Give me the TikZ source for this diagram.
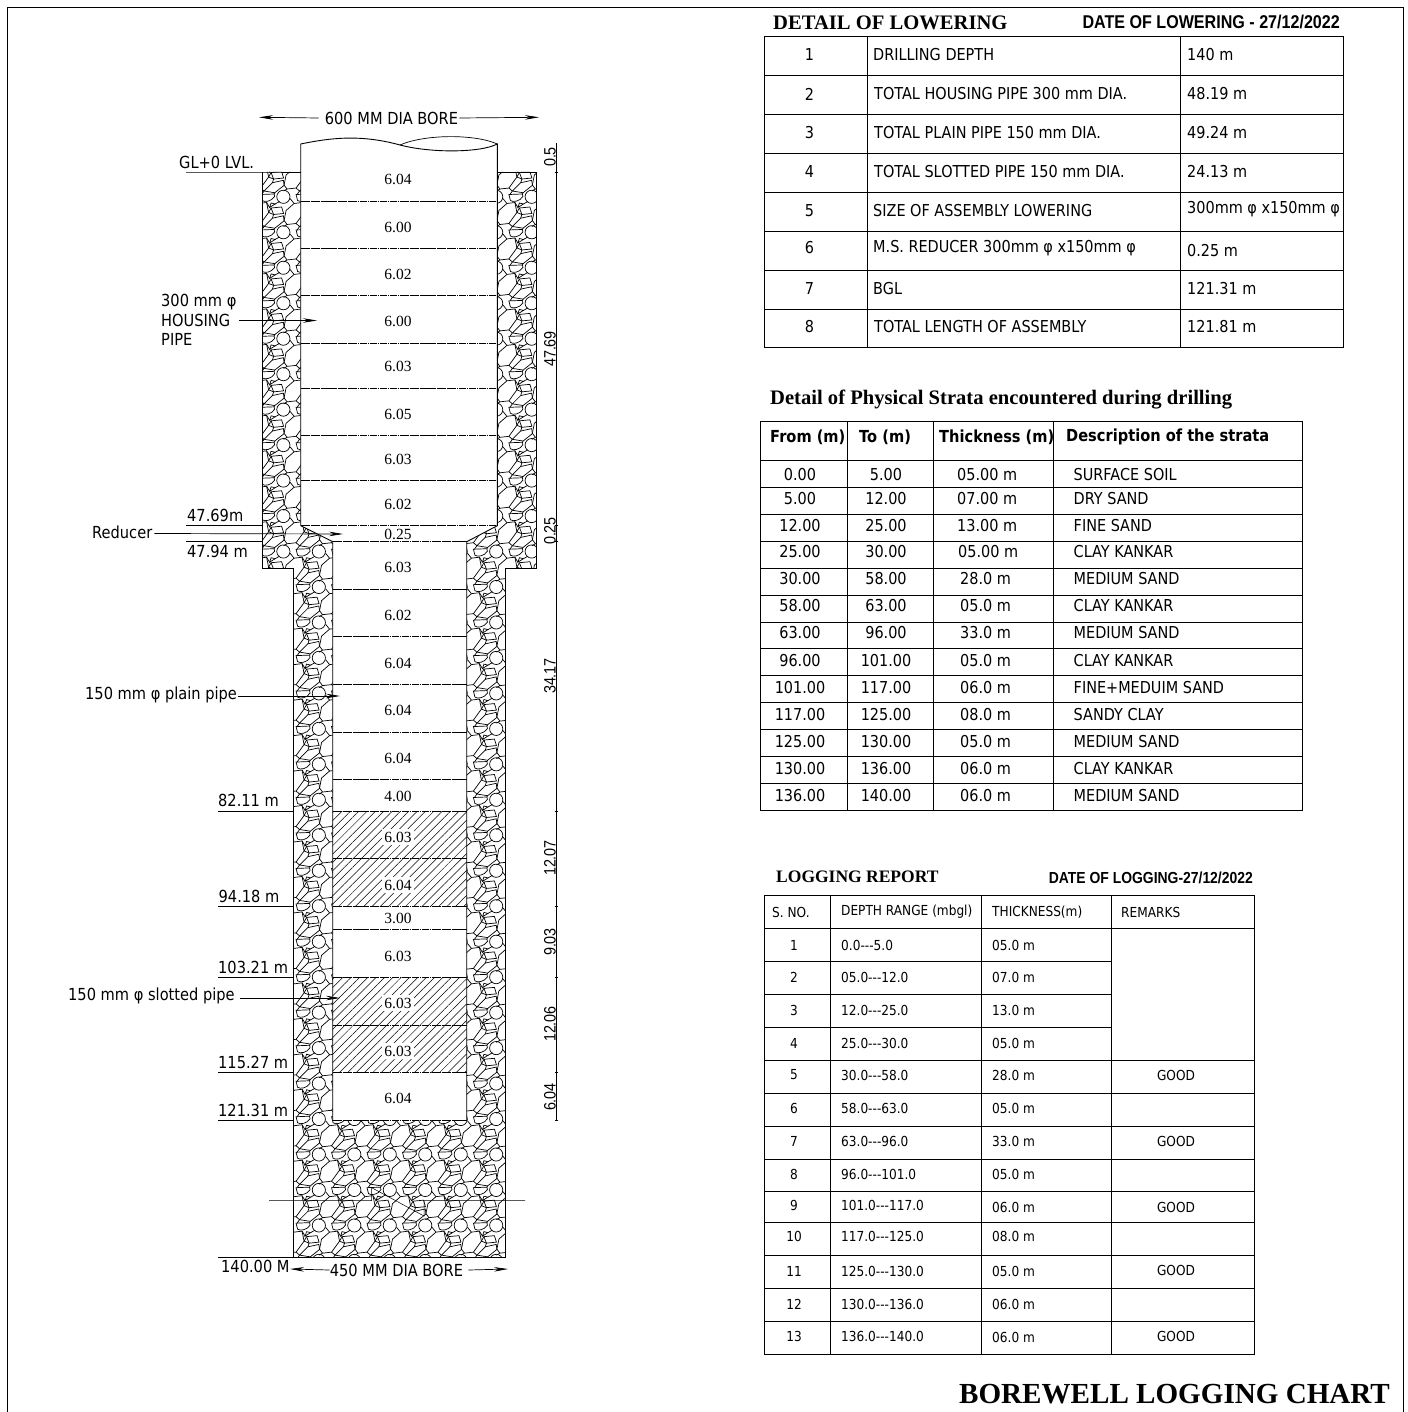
\documentclass[tikz,border=0pt]{standalone}
\usepackage{fontspec}
\setmainfont{DejaVu Sans}[FakeStretch=0.88]
\newfontfamily\titlefont{Liberation Serif}
\newfontfamily\narrowfont{Liberation Sans}[FakeStretch=0.87]
\usepackage{tikz}
\usetikzlibrary{calc,positioning,arrows.meta,patterns.meta}
\tikzset{
	lbl/.style={inner sep=0pt, font=\fontsize{16.6}{17}\selectfont},
	tbl/.style={inner sep=0pt, font=\fontsize{16.4}{17}\selectfont},
	tblsmall/.style={inner sep=0pt, font=\fontsize{13.8}{14}\selectfont},
	seglbl/.style={inner sep=1pt, font=\titlefont\fontsize{15.5}{15}\selectfont},
	hatchlbl/.style={inner sep=2.5pt, font=\titlefont\fontsize{15.5}{15}\selectfont},
	dimlbl/.style={inner sep=0pt, rotate=90, font=\narrowfont\fontsize{16.5}{16}\selectfont},
	head/.style={inner sep=0pt, font=\titlefont\bfseries\fontsize{20.6}{20}\selectfont},
	datehead/.style={inner sep=0pt, font=\narrowfont\bfseries\fontsize{18.5}{18}\selectfont},
	leader/.style={-{Stealth[length=14pt,width=4.5pt]}, line width=.7pt},
	levelline/.style={line width=.8pt},
	joint/.style={line width=.5pt, dash pattern=on 7pt off .7pt on 1.5pt off .7pt},
	wall/.style={line width=.9pt},
	grid/.style={line width=.8pt},
	stones/.pic={
		\draw[line width=.7pt] (8,25)--(10,15)--(18,8)--(26,7)--(28,17)--(20,28)--(11,29)--cycle;
		\draw[line width=.7pt] (7.3,1.3) circle (6.6);
		\draw[line width=.7pt] (20,-1)--(33.5,-1.5)--(34,1) .. controls (31,6) and (24,7) .. (21.5,5)--cycle;
		\draw[line width=.7pt] (29,12)--(30.5,7.5)--(34.5,8.5)--cycle;
		\draw[line width=.7pt] (30.5,12.5)--(41,11.5)--(43,18)--(33,19)--cycle;
		\draw[line width=.7pt] (23.5,31)--(31.8,22.7)--(42.8,20.3)--(43.5,25.3)--(34.2,32.7)--cycle;
		\draw[line width=.7pt] (28,17)--(30.5,12.5) (26,7)--(29,12) (20,28)--(23.5,31)
			(18,8)--(14,3) (34.5,8.5)--(39,6) (23.5,31)--(21,34.5) (34.2,32.7)--(33.5,34) (11,29)--(7.5,31) (28,17)--(33,19) (31.8,22.7)--(33,19);
	},
}
\begin{document}
\begin{tikzpicture}[x=1pt,y=-1pt]
			\useasboundingbox (0,0) rectangle (1407,1412);
			\draw[line width=1pt] (7,1412)--(7,8)--(1403.5,8)--(1403.5,1412);

			% gravel pack
			\begin{scope}
				\clip (262,172)--(536,172)--(536,568)--(505.5,568)--(505.5,1257)--(293,1257)--(293,568)--(262,568)--cycle;
				\foreach \i in {-1,...,8}
					\foreach \j in {-1,...,30}
						\pic at ({240.6+\i*35.47},{195.5+\j*35.47}) {stones};
			\end{scope}
			\draw[wall] (262,172)--(262,568)--(293,568)--(293,1257)--(505.5,1257)--(505.5,568)--(536,568)--(536,172);

			% pipe string
			\fill[white] (300.7,144) .. controls (330,138) and (360,134) .. (400,145) .. controls (430,153) and (480,153) .. (497.3,144)--(497.3,525.7)--(466.7,541.7)--(466.7,1120)--(332.7,1120)--(332.7,541.7)--(300.7,525.7)--cycle;
			\path[pattern={Lines[angle=45,distance=5.9pt,line width=.5pt]}] (332.7,811) rectangle (466.7,906);
			\path[pattern={Lines[angle=45,distance=5.9pt,line width=.5pt]}] (332.7,977) rectangle (466.7,1072);
			\draw[wall] (300.7,172)--(300.7,144) .. controls (330,138) and (360,134) .. (400,145) .. controls (430,153) and (480,153) .. (497.3,144)--(497.3,172);
			\draw[line width=.7pt] (400,145) .. controls (425,134) and (475,134) .. (497.3,144);
			\draw[wall] (300.7,172)--(300.7,525.7)--(332.7,541.7)--(332.7,1120);
			\draw[wall] (497.3,172)--(497.3,525.7)--(466.7,541.7)--(466.7,1120);
			\foreach \y in {201,248,295.3,343,388,435,480,525.7}
				\draw[joint] (300.7,\y)--(497.3,\y);
			\foreach \y in {541.7,589,636.7,684,732,779,811,858.3,906,929.7,977.3,1025,1072.3,1120}
				\draw[joint] (332.7,\y)--(466.7,\y);
			\foreach \n/\y/\l in {a/179/6.04,b/227/6.00,c/274/6.02,d/321/6.00,e/366/6.03,f/414/6.05,g/459/6.03,h/504/6.02,i/534/0.25,j/567/6.03,k/615/6.02,l/663/6.04,m/710/6.04,n/758/6.04,o/796/4.00,r/918/3.00,s/956/6.03,v/1098/6.04}
				\node[seglbl] (seg\n) at (398,\y) {\l};
			\foreach \n/\y/\l in {p/837/6.03,q/885/6.04,t/1003/6.03,u/1051/6.03}
				\node[hatchlbl, fill=white] (seg\n) at (398,\y) {\l};

			% top and bottom bore widths
			\node[lbl] (boretop) at (391.5,118) {600 MM DIA BORE};
			\coordinate (boretopl) at (259,117.3);
			\coordinate (boretopr) at (539,117.3);
			\draw[leader] ($(boretop.west)+(-6,0)$)--(boretopl);
			\draw[leader] ($(boretop.east)+(1,0)$)--(boretopr);
			\node[lbl] (borebot) at (396.5,1270) {450 MM DIA BORE};
			\coordinate (borebotl) at (290,1269);
			\coordinate (borebotr) at (508,1269);
			\draw[leader] (borebot.west)--(borebotl);
			\draw[leader] ($(borebot.east)+(5,0)$)--(borebotr);

			% break line
			\draw[line width=.5pt] (269,1200.7)--(371.7,1200.7)--(371.7,1187.7)--(424,1216)--(424,1200.7)--(525,1200.7);

			% level marks
			\node[lbl, anchor=west] (glevel) at (179,162) {GL+0 LVL.};
			\coordinate (glleft) at (186,172);
			\coordinate (glright) at (262,172);
			\draw[levelline] (glleft)--(glright)--(300.7,172) (497.3,172)--(536,172);
			\foreach \n/\y/\l/\x in {lva/515/47.69m/187,lvb/551/47.94 m/187,lvc/800/82.11 m/218,lvd/896/94.18 m/218.5,lve/967/103.21 m/218,lvf/1062/115.27 m/218,lvg/1110/121.31 m/218,lvh/1266/140.00 M/221}
				\node[lbl, anchor=west] (\n) at (\x,\y) {\l};
			\foreach \n/\y/\x/\e in {a/525.7/186/262,b/541.5/186/262,c/811/218/293,d/906/218/293,e/977/218/293,f/1072.3/218/293,g/1120/218/293,h/1257/218/293}
				\draw[levelline] (\x,\y) coordinate (lines\n)--(\e,\y) coordinate (linee\n);

			% pipe labels with arrows
			\node[lbl, anchor=north west, align=left, font=\fontsize{16.6}{19.5}\selectfont] (hsg) at (161,294) {300 mm φ\\HOUSING\\PIPE};
			\coordinate (hsgfrom) at (239,320.5);
			\coordinate (hsgtip) at (317,320.5);
			\draw[leader] (hsgfrom)--(hsgtip);
			\node[lbl, anchor=west] (redc) at (92,532.5) {Reducer};
			\coordinate (redctip) at (343,534);
			\draw[leader] ($(redc.east)+(2,1)$)--(redctip);
			\node[lbl, anchor=west] (plain) at (85,695) {150 mm φ plain pipe};
			\coordinate (plaintip) at (340,696);
			\draw[leader] ($(plain.east)+(1,1)$)--(plaintip);
			\node[lbl, anchor=west] (slot) at (68,996) {150 mm φ slotted pipe};
			\coordinate (slottip) at (340,998);
			\draw[leader] ($(slot.east)+(5,2)$)--(slottip);

			% dimension line at right
			\draw[line width=.8pt] (556.7,143)--(556.7,1120);
			\foreach \y in {172,525.7,541.7,811,906,977.3,1072.3,1120}
				\draw[line width=.7pt] (554.5,\y)--(558,\y);
			\foreach \n/\y/\l in {a/157/0.5,b/349/47.69,c/531/0.25,d/676/34.17,e/858/12.07,f/942/9.03,g/1024/12.06,h/1097/6.04}
				\node[dimlbl] (dim\n) at (550,\y) {\l};

			% detail of lowering
			\node[head, anchor=west] (lowhead) at (773,23) {DETAIL OF LOWERING};
			\node[datehead, anchor=east] (lowdate) at (1340,22) {DATE OF LOWERING - 27/12/2022};
			\draw[grid] (764,36) rectangle (1343.5,347);
			\foreach \y in {75,114,153,192,231,270,309}
				\draw[grid] (764,\y)--(1343.5,\y);
			\foreach \x in {867,1180}
				\draw[grid] (\x,36)--(\x,347);
			\foreach \n/\y/\x/\l/\v/\w in {1/55/873/DRILLING DEPTH/140 m/55,2/94/874/TOTAL HOUSING PIPE 300 mm DIA./48.19 m/94,3/133/874/TOTAL PLAIN PIPE 150 mm DIA./49.24 m/133,4/172/874/TOTAL SLOTTED PIPE 150 mm DIA./24.13 m/172,5/211/873/SIZE OF ASSEMBLY LOWERING/300mm φ x150mm φ/209,6/248/873/M.S. REDUCER 300mm φ x150mm φ/0.25 m/251,7/289/873/BGL/121.31 m/289,8/327/874/TOTAL LENGTH OF ASSEMBLY/121.81 m/327} {
				\node[tbl] (lown\n) at (809.5,\y) {\n};
				\node[tbl, anchor=west] (lowt\n) at (\x,\y) {\l};
				\node[tbl, anchor=west] (lowv\n) at (1187,\w) {\v};
			}

			% strata
			\node[head, anchor=west] (strhead) at (770,400) {Detail of Physical Strata encountered during drilling};
			\draw[grid] (760.5,421) rectangle (1302,810);
			\foreach \x in {847,933.5,1053.5}
				\draw[grid] (\x,421)--(\x,810);
			\foreach \y in {460,487,514,541,568,595,622,648,675,702,729,756,783}
				\draw[grid] (760.5,\y)--(1302,\y);
			\node[tbl, font=\bfseries\fontsize{16.6}{17}\selectfont, anchor=west] (strf) at (770,437) {From (m)};
			\node[tbl, font=\bfseries\fontsize{16.6}{17}\selectfont, anchor=west] (strt) at (859,437) {To (m)};
			\node[tbl, font=\bfseries\fontsize{16.6}{17}\selectfont, anchor=west] (strk) at (939,437) {Thickness (m)};
			\node[tbl, font=\bfseries\fontsize{16.6}{17}\selectfont, anchor=west] (strd) at (1066,437) {Description of the strata};
			\foreach \n/\y/\a/\b/\c/\d/\x in {1/475/0.00/5.00/05.00 m/SURFACE SOIL/957,2/499/5.00/12.00/07.00 m/DRY SAND/957,3/526/12.00/25.00/13.00 m/FINE SAND/957,4/552/25.00/30.00/05.00 m/CLAY KANKAR/958,5/579/30.00/58.00/28.0 m/MEDIUM SAND/960,6/606/58.00/63.00/05.0 m/CLAY KANKAR/960,7/633/63.00/96.00/33.0 m/MEDIUM SAND/960,8/661/96.00/101.00/05.0 m/CLAY KANKAR/960,9/688/101.00/117.00/06.0 m/FINE+MEDUIM SAND/960,10/715/117.00/125.00/08.0 m/SANDY CLAY/960,11/742/125.00/130.00/05.0 m/MEDIUM SAND/960,12/769/130.00/136.00/06.0 m/CLAY KANKAR/960,13/796/136.00/140.00/06.0 m/MEDIUM SAND/960} {
				\node[tbl] (stra\n) at (800,\y) {\a};
				\node[tbl] (strb\n) at (886,\y) {\b};
				\node[tbl, anchor=west] (strc\n) at (\x,\y) {\c};
				\node[tbl, anchor=west] (strs\n) at (1073.5,\y) {\d};
			}

			% logging report
			\node[head, anchor=west, font=\titlefont\bfseries\fontsize{17.5}{17}\selectfont] (loghead) at (776,877) {LOGGING REPORT};
			\node[datehead, anchor=east, font=\narrowfont\bfseries\fontsize{16}{16}\selectfont] (logdate) at (1253,878) {DATE OF LOGGING-27/12/2022};
			\draw[grid] (764,895) rectangle (1254,1354);
			\foreach \x in {830,981,1111}
				\draw[grid] (\x,895)--(\x,1354);
			\foreach \y in {928,1060,1093,1126,1159,1191,1222,1255,1288,1321}
				\draw[grid] (764,\y)--(1254,\y);
			\foreach \y in {961,994,1027}
				\draw[grid] (764,\y)--(1111,\y);
			\node[tblsmall, anchor=west] (logn) at (772,912) {S. NO.};
			\node[tblsmall, anchor=west] (logr) at (841,912) {DEPTH RANGE (mbgl)};
			\node[tblsmall, anchor=west] (logt) at (992,912) {THICKNESS(m)};
			\node[tblsmall, anchor=west] (logm) at (1121,912) {REMARKS};
			\foreach \n/\y/\a/\e/\b/\z in {1/945/0.0/5.0/05.0 m/945,2/977/05.0/12.0/07.0 m/977,3/1010/12.0/25.0/13.0 m/1010,4/1043/25.0/30.0/05.0 m/1043,5/1075/30.0/58.0/28.0 m/1075,6/1108/58.0/63.0/05.0 m/1108,7/1141/63.0/96.0/33.0 m/1141,8/1174/96.0/101.0/05.0 m/1174,9/1205/101.0/117.0/06.0 m/1207,10/1236/117.0/125.0/08.0 m/1236,11/1271/125.0/130.0/05.0 m/1271,12/1304/130.0/136.0/06.0 m/1304,13/1336/136.0/140.0/06.0 m/1337} {
				\node[tblsmall] (logs\n) at (794,\y) {\n};
				\node[tblsmall, anchor=west] (logd\n) at (841,\y) {\a-{}-{}-\e};
				\node[tblsmall, anchor=west] (logk\n) at (992,\z) {\b};
			}
			\foreach \n/\y in {a/1075,b/1141,c/1207,d/1270,e/1336}
				\node[tblsmall] (good\n) at (1176,\y) {GOOD};

			\node[head, anchor=east, font=\titlefont\bfseries\fontsize{29.1}{29}\selectfont] (chart) at (1390,1394) {BOREWELL LOGGING CHART};
			\end{tikzpicture}
\end{document}
